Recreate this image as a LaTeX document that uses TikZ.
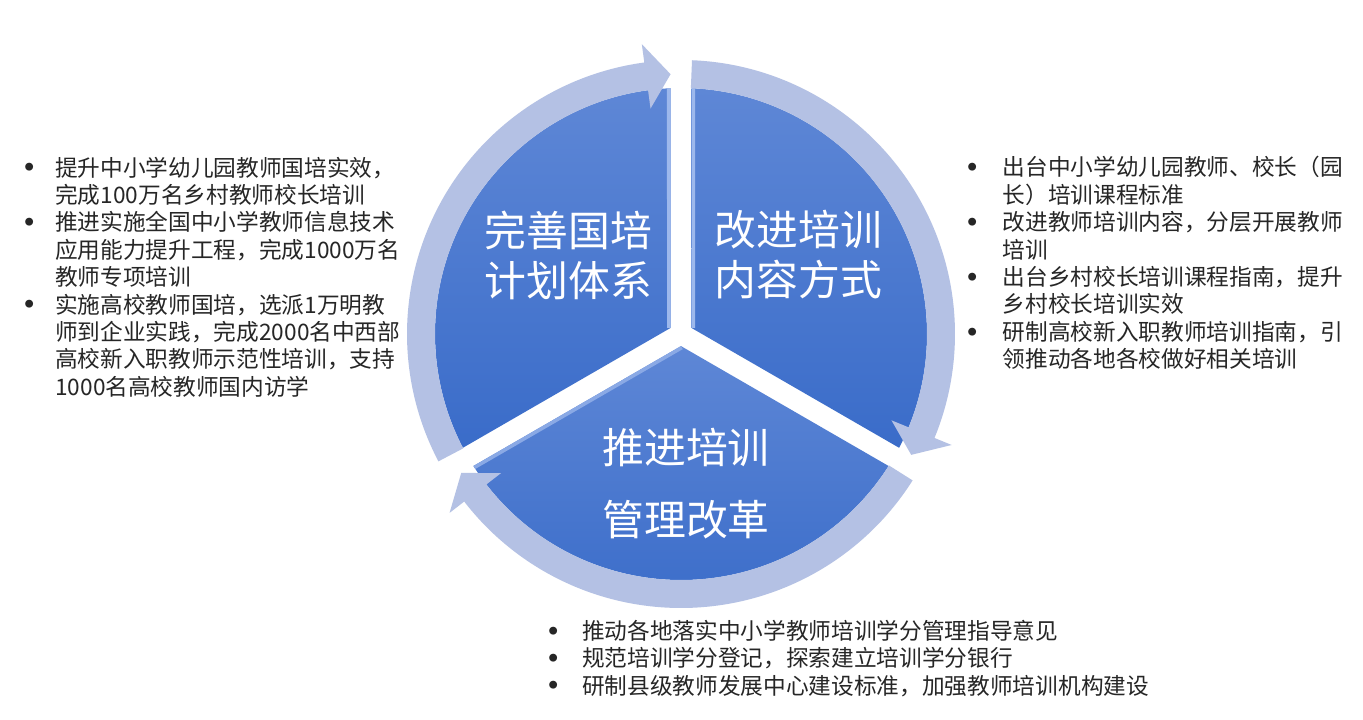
\documentclass[tikz,border=0pt]{standalone}
\usepackage{fontspec}
\setmainfont{Noto Sans CJK SC}
\usetikzlibrary{calc}
\definecolor{ringblue}{HTML}{B4C1E4}
\definecolor{segtop}{HTML}{5E87D6}
\definecolor{segbot}{HTML}{3A6CC9}
\definecolor{bevellight}{HTML}{9DB8EC}
\definecolor{bodytext}{HTML}{262626}
% curved ring arrow: #1 tail angle, #2 tip angle (clockwise)
\newcommand{\cyclearrow}[2]{%
  \fill[ringblue] (#1:274) arc[start angle=#1, end angle=#2+5.4, radius=274]
    -- (#2+5.4:292.5) -- (#2:260) -- (#2+5.4:227.5) -- (#2+5.4:246)
    arc[start angle=#2+5.4, end angle=#1, radius=246] -- cycle;}
\newcommand{\bulletdot}{\makebox[5.7pt]{\raisebox{3pt}{\fontsize{5}{5}\selectfont ●}}}

\begin{document}
\begin{tikzpicture}[x=0.2mm, y=0.2mm,
    segment/.style={top color=segtop, bottom color=segbot},
    bevel/.style={draw=bevellight, line width=4pt},
    seglabel/.style={text=white, align=center, font=\fontsize{23.8}{28.5}\selectfont},
    blk/.style={anchor=north west, inner sep=0pt, text=bodytext, font=\fontsize{12.9}{15.5}\selectfont}
]
\fill[white] (0,0) rectangle (1363,-720);
\useasboundingbox (0,0) rectangle (1363,-720);

% three segments and ring arrows
\begin{scope}[shift={(681,-334)}]
\shade[segment] (150:12.1) -- (92.45:246) arc[start angle=92.45, end angle=207.55, radius=246] -- cycle;
\shade[segment] (30:12.1) -- (-27.55:246) arc[start angle=-27.55, end angle=87.55, radius=246] -- cycle;
\shade[segment] (270:12.1) -- (212.45:246) arc[start angle=212.45, end angle=327.55, radius=246] -- cycle;
% light bevel along the gap edges
\begin{scope}
\clip (150:12.1) -- (92.45:246) arc[start angle=92.45, end angle=207.55, radius=246] -- cycle;
\draw[bevel] (150:12.1) -- (92.45:246);
\end{scope}
\begin{scope}
\clip (30:12.1) -- (-27.55:246) arc[start angle=-27.55, end angle=87.55, radius=246] -- cycle;
\draw[bevel] (30:12.1) -- (87.55:246);
\end{scope}
\begin{scope}
\clip (270:12.1) -- (212.45:246) arc[start angle=212.45, end angle=327.55, radius=246] -- cycle;
\draw[bevel, draw=bevellight!70!segtop] (270:12.1) -- (212.45:246);
\end{scope}
\cyclearrow{207.7}{92.3}
\cyclearrow{87.7}{-27.7}
\cyclearrow{-32.3}{-147.7}
\end{scope}

\node[seglabel] (plan) at (568.5,-255) {完善国培\\计划体系};
\node[seglabel] (content) at (798.5,-255) {改进培训\\内容方式};
\node[seglabel, font=\fontsize{23.8}{41}\selectfont] (manage) at (686,-484) {推进培训\\管理改革};

% bullet lists
\node[blk] (plantext) at (24,-156.5) {\begin{tabular}{@{}l@{}l@{}}
\makebox[17.6pt][l]{\bulletdot} & 提升中小学幼儿园教师国培实效，\\
 & 完成100万名乡村教师校长培训\\
\bulletdot & 推进实施全国中小学教师信息技术\\
 & 应用能力提升工程，完成1000万名\\
 & 教师专项培训\\
\bulletdot & 实施高校教师国培，选派1万明教\\
 & 师到企业实践，完成2000名中西部\\
 & 高校新入职教师示范性培训，支持\\
 & 1000名高校教师国内访学
\end{tabular}};

\node[blk] (contenttext) at (967,-156.2) {\begin{tabular}{@{}l@{}l@{}}
\makebox[20.2pt][l]{\bulletdot} & 出台中小学幼儿园教师、校长（园\\
 & 长）培训课程标准\\
\bulletdot & 改进教师培训内容，分层开展教师\\
 & 培训\\
\bulletdot & 出台乡村校长培训课程指南，提升\\
 & 乡村校长培训实效\\
\bulletdot & 研制高校新入职教师培训指南，引\\
 & 领推动各地各校做好相关培训
\end{tabular}};

\node[blk, font=\fontsize{12.9}{15.1}\selectfont] (managetext) at (548,-620.1) {\begin{tabular}{@{}l@{}l@{}}
\makebox[19.3pt][l]{\bulletdot} & 推动各地落实中小学教师培训学分管理指导意见\\
\bulletdot & 规范培训学分登记，探索建立培训学分银行\\
\bulletdot & 研制县级教师发展中心建设标准，加强教师培训机构建设
\end{tabular}};
\end{tikzpicture}
\end{document}
